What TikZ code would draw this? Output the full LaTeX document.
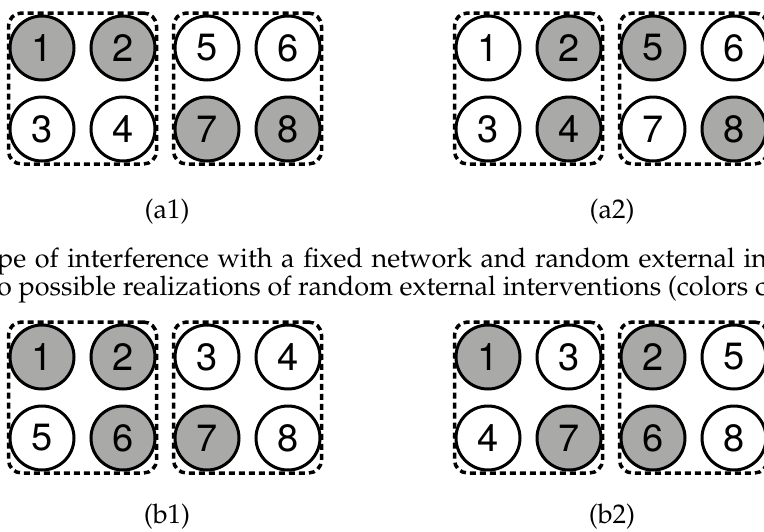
\documentclass[tikz,border=0pt]{standalone}
\usepackage[T1]{fontenc}
\usepackage{fontspec}
\setsansfont{TeX Gyre Heros}
\usetikzlibrary{positioning,fit}

\definecolor{cellgray}{RGB}{169,170,168}
\newcommand{\palfont}{\fontencoding{T1}\fontfamily{ppl}\selectfont}

\begin{document}
\begin{tikzpicture}[x=1pt,y=-1pt,
    unit/.style={circle,draw,line width=3pt,minimum size=64pt,inner sep=0pt,
      font=\sffamily\fontsize{38}{38}\selectfont},
    treated/.style={unit,fill=cellgray},
    control/.style={unit,fill=white},
    cluster/.style={draw,line width=3.5pt,dash pattern=on 6pt off 4pt,
      rounded corners=13pt,inner xsep=0pt,inner ysep=1.5pt},
    tag/.style={font=\palfont\fontsize{27}{28}\selectfont},
    node distance=14pt]
  \useasboundingbox (0,0) rectangle (764,531);

  % (a1)
  \node (a1-1) [treated] at (42,48) {1};
  \node (a1-2) [treated,right=of a1-1] {2};
  \node (a1-5) [control,right=17pt of a1-2] {5};
  \node (a1-6) [control,right=of a1-5] {6};
  \node (a1-3) [control,below=of a1-1] {3};
  \node (a1-4) [control,below=of a1-2] {4};
  \node (a1-7) [treated,below=of a1-5] {7};
  \node (a1-8) [treated,below=of a1-6] {8};
  \node (a1-left) [cluster,fit=(a1-1)(a1-4)] {};
  \node (a1-right) [cluster,fit=(a1-5)(a1-8)] {};
  \node (a1-tag) [tag] at (167,212) {(a1)};

  % (a2)
  \node (a2-1) [control] at (488,48) {1};
  \node (a2-2) [treated,right=of a2-1] {2};
  \node (a2-5) [treated,right=17pt of a2-2] {5};
  \node (a2-6) [control,right=of a2-5] {6};
  \node (a2-3) [control,below=of a2-1] {3};
  \node (a2-4) [treated,below=of a2-2] {4};
  \node (a2-7) [control,below=of a2-5] {7};
  \node (a2-8) [treated,below=of a2-6] {8};
  \node (a2-left) [cluster,fit=(a2-1)(a2-4)] {};
  \node (a2-right) [cluster,fit=(a2-5)(a2-8)] {};
  \node (a2-tag) [tag] at (612,212) {(a2)};

  % caption lines
  \node (cap-top) [tag,anchor=base west,inner sep=0pt] at (-3,267)
    {\makebox[770pt][s]{pe of interference with a fixed network and random external in}};
  \node (cap-bot) [tag,anchor=base west,inner sep=0pt] at (-3,295)
    {o possible realizations of random external interventions (colors c};

  % (b1)
  \node (b1-1) [treated] at (42,357) {1};
  \node (b1-2) [treated,right=of b1-1] {2};
  \node (b1-3) [control,right=17pt of b1-2] {3};
  \node (b1-4) [control,right=of b1-3] {4};
  \node (b1-5) [control,below=of b1-1] {5};
  \node (b1-6) [treated,below=of b1-2] {6};
  \node (b1-7) [treated,below=of b1-3] {7};
  \node (b1-8) [control,below=of b1-4] {8};
  \node (b1-left) [cluster,fit=(b1-1)(b1-6)] {};
  \node (b1-right) [cluster,fit=(b1-3)(b1-8)] {};
  \node (b1-tag) [tag] at (167,517) {(b1)};

  % (b2)
  \node (b2-1) [treated] at (488,357) {1};
  \node (b2-3) [control,right=of b2-1] {3};
  \node (b2-2) [treated,right=17pt of b2-3] {2};
  \node (b2-5) [control,right=of b2-2] {5};
  \node (b2-4) [control,below=of b2-1] {4};
  \node (b2-7) [treated,below=of b2-3] {7};
  \node (b2-6) [treated,below=of b2-2] {6};
  \node (b2-8) [control,below=of b2-5] {8};
  \node (b2-left) [cluster,fit=(b2-1)(b2-7)] {};
  \node (b2-right) [cluster,fit=(b2-2)(b2-8)] {};
  \node (b2-tag) [tag] at (612,517) {(b2)};
\end{tikzpicture}
\end{document}
